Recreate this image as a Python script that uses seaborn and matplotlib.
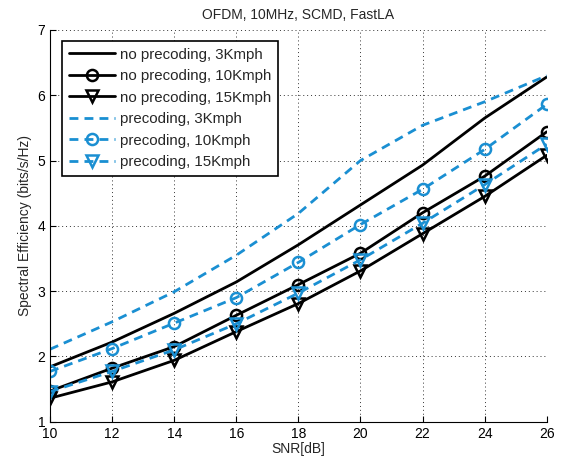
import matplotlib
matplotlib.use("Agg")
import matplotlib.pyplot as plt
import seaborn as sns
import pandas as pd

snr = [10, 12, 14, 16, 18, 20, 22, 24, 26]
nopre_3 = [1.84, 2.22, 2.66, 3.14, 3.71, 4.32, 4.93, 5.65, 6.28]
nopre_10 = [1.47, 1.82, 2.15, 2.63, 3.10, 3.58, 4.20, 4.76, 5.44]
nopre_15 = [1.36, 1.61, 1.94, 2.38, 2.81, 3.31, 3.88, 4.45, 5.08]
pre_3 = [2.11, 2.53, 2.99, 3.55, 4.19, 5.00, 5.54, 5.90, 6.30]
pre_10 = [1.77, 2.12, 2.51, 2.90, 3.44, 4.02, 4.56, 5.17, 5.86]
pre_15 = [1.46, 1.77, 2.10, 2.50, 2.97, 3.48, 4.04, 4.63, 5.25]

labels = ["no precoding, 3Kmph", "no precoding, 10Kmph", "no precoding, 15Kmph",
          "precoding, 3Kmph", "precoding, 10Kmph", "precoding, 15Kmph"]
series = [nopre_3, nopre_10, nopre_15, pre_3, pre_10, pre_15]

sns.set_style("ticks")
plt.rcParams['font.family'] = ['Liberation Sans', 'DejaVu Sans']

BLUE = "#1a8fd2"
styles = [
    dict(color="black", linestyle="-", marker=None),
    dict(color="black", linestyle="-", marker="o"),
    dict(color="black", linestyle="-", marker="v"),
    dict(color=BLUE, linestyle=(0, (3.2, 2.2)), marker=None),
    dict(color=BLUE, linestyle=(0, (3.2, 2.2)), marker="o"),
    dict(color=BLUE, linestyle=(0, (3.2, 2.2)), marker="v"),
]

fig = plt.figure(figsize=(5.64, 4.65), dpi=100)
ax = fig.add_axes([0.0887, 0.0931, 0.8806, 0.8424])

for lab, vals, st in zip(labels, series, styles):
    df = pd.DataFrame({"SNR": snr, "SE": vals})
    kw = dict(color=st["color"], linestyle=st["linestyle"], linewidth=2.0, label=lab)
    if st["marker"]:
        kw.update(marker=st["marker"], markersize=8, markerfacecolor="none",
                  markeredgecolor=st["color"], markeredgewidth=1.8)
    sns.lineplot(data=df, x="SNR", y="SE", ax=ax, **kw)

ax.set_xlim(10, 26)
ax.set_ylim(1, 7)
ax.set_xticks(snr)
ax.set_yticks([1, 2, 3, 4, 5, 6, 7])
ax.grid(True, linestyle=(0, (1, 3)), color="black", linewidth=0.7, alpha=0.8)
ax.tick_params(direction="in", length=4, labelsize=10, colors="black")
for s in ["top", "right"]:
    ax.spines[s].set_visible(False)
for s in ["left", "bottom"]:
    ax.spines[s].set_linewidth(0.8)
    ax.spines[s].set_color("black")

ax.set_xlabel("SNR[dB]", fontsize=10, labelpad=1)
ax.set_ylabel("Spectral Efficiency (bits/s/Hz)", fontsize=10, labelpad=4)
ax.set_title("OFDM, 10MHz, SCMD, FastLA", fontsize=10, pad=8)

leg = ax.legend(loc="upper left", bbox_to_anchor=(0.024, 0.972), fontsize=10.8,
                handlelength=3.1, frameon=True, fancybox=False, borderpad=0.45,
                labelspacing=0.5, handletextpad=0.3, borderaxespad=0)
leg.get_frame().set_edgecolor("black")
leg.get_frame().set_linewidth(1.2)
leg.get_frame().set_alpha(1)

fig.savefig("out.png", dpi=100)
